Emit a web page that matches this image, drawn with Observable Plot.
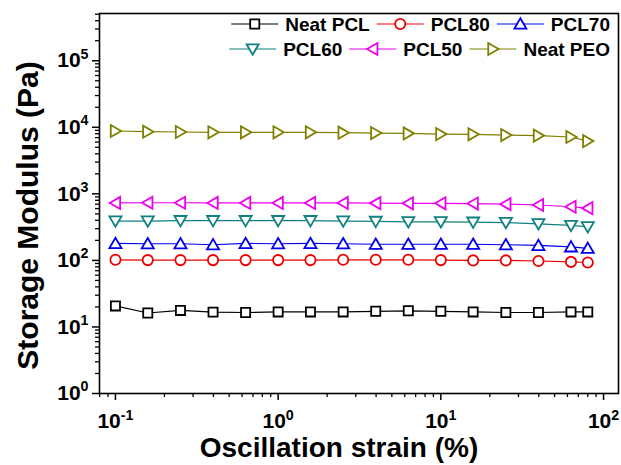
<!DOCTYPE html>
<html><head><meta charset="utf-8">
<script src="https://cdn.jsdelivr.net/npm/d3@7"></script>
<script src="https://cdn.jsdelivr.net/npm/@observablehq/plot@0.6"></script>
<style>
body{margin:0;background:#fff;}
#chart svg{display:block;background:#fff;}
</style></head><body><div id="chart"></div>
<script>
const strain = [0.1, 0.158, 0.251, 0.398, 0.631, 1, 1.58, 2.51, 3.98, 6.31, 10, 15.8, 25.1, 39.8, 63.1, 80];
const neatPCL = [20.7, 16.2, 17.7, 16.7, 16.5, 16.8, 16.8, 16.8, 17.2, 17.5, 17.2, 16.8, 16.5, 16.5, 16.8, 16.8];
const pcl80 = [102, 101, 101, 101, 101, 101, 101, 102, 102, 102, 101, 100, 100, 98, 95, 93];
const pcl70 = [180, 178, 178, 172, 180, 178, 180, 178, 175, 175, 175, 175, 172, 168, 160, 152];
const pcl60 = [390, 390, 395, 395, 395, 395, 395, 390, 385, 380, 380, 375, 370, 355, 335, 320];
const pcl50 = [730, 735, 735, 730, 730, 730, 730, 730, 725, 720, 720, 715, 700, 680, 640, 610];
const neatPEO = [8800, 8600, 8500, 8400, 8400, 8400, 8400, 8300, 8200, 8100, 7900, 7850, 7650, 7500, 7150, 6200];

const seriesNames = ["Neat PCL", "PCL80", "PCL70", "PCL60", "PCL50", "Neat PEO"];
const seriesValues = [neatPCL, pcl80, pcl70, pcl60, pcl50, neatPEO];
const seriesColors = ["#000000", "#ee0000", "#0000ee", "#118080", "#ee00ee", "#808000"];
const seriesShapes = ["square", "circle", "up", "down", "left", "right"];

const xMajorTicks = [0.1, 1, 10, 100];
const yMajorTicks = [1, 10, 100, 1000, 10000, 100000];
const xDomain = [Math.pow(10, -1.098), Math.pow(10, 2.092)];
const yDomain = [1, Math.pow(10, 5.71)];

function minorTicks(majors, domain) {
  const out = [];
  const firstDecade = majors[0] / 10;
  [firstDecade, ...majors].forEach(d => { for (let k = 2; k <= 9; k++) { const v = d * k; if (v >= domain[0] && v <= domain[1]) out.push(v); } });
  return out;
}
const xMinorTicks = minorTicks(xMajorTicks, xDomain);
const yMinorTicks = minorTicks(yMajorTicks, yDomain);

const FONT = "'Liberation Sans', Arial, Helvetica, sans-serif";

function drawShape(ctx, kind, h) {
  if (kind === "square") { const s = h * 0.8; ctx.rect(-s, -s, 2 * s, 2 * s); }
  else if (kind === "circle") { const r = h * 0.9; ctx.moveTo(r, 0); ctx.arc(0, 0, r, 0, 2 * Math.PI); }
  else if (kind === "up") { ctx.moveTo(0, -h); ctx.lineTo(1.06 * h, 0.82 * h); ctx.lineTo(-1.06 * h, 0.82 * h); ctx.closePath(); }
  else if (kind === "down") { ctx.moveTo(0, h); ctx.lineTo(1.06 * h, -0.82 * h); ctx.lineTo(-1.06 * h, -0.82 * h); ctx.closePath(); }
  else if (kind === "left") { ctx.moveTo(-h, 0); ctx.lineTo(0.82 * h, -1.06 * h); ctx.lineTo(0.82 * h, 1.06 * h); ctx.closePath(); }
  else if (kind === "right") { ctx.moveTo(h, 0); ctx.lineTo(-0.82 * h, -1.06 * h); ctx.lineTo(-0.82 * h, 1.06 * h); ctx.closePath(); }
}
function symbolOf(kind) {
  return { draw(ctx, size) { drawShape(ctx, kind, Math.sqrt(size / Math.PI)); } };
}

const rows = [];
seriesNames.forEach((name, i) => strain.forEach((x, j) => rows.push({ series: name, i, x, y: seriesValues[i][j] })));

const marks = [];
seriesNames.forEach((name, i) => {
  const d = rows.filter(r => r.i === i);
  marks.push(Plot.line(d, { x: "x", y: "y", stroke: seriesColors[i], strokeWidth: 1.2 }));
});
seriesNames.forEach((name, i) => {
  const d = rows.filter(r => r.i === i);
  marks.push(Plot.dot(d, { x: "x", y: "y", stroke: seriesColors[i], fill: "white", strokeWidth: 1.8, r: 5.7, symbol: symbolOf(seriesShapes[i]) }));
});

const expFmt = d => "10^" + Math.round(Math.log10(d));

const plot = Plot.plot({
  width: 621,
  height: 465,
  marginLeft: 99,
  marginRight: 3,
  marginTop: 13,
  marginBottom: 72,
  style: { fontFamily: FONT, background: "white", overflow: "visible" },
  x: { type: "log", domain: xDomain, axis: null },
  y: { type: "log", domain: yDomain, axis: null },
  marks: [
    ...marks,
    Plot.axisX(xMinorTicks, { tickSize: 4, tickFormat: () => "", label: null, stroke: "black", strokeWidth: 1.3 }),
    Plot.axisX(xMajorTicks, { tickSize: 7, tickPadding: 13, tickFormat: expFmt, label: null, fontSize: 21, fontWeight: "bold", stroke: "black", strokeWidth: 1.5, fill: "black" }),
    Plot.axisY(yMinorTicks, { tickSize: 4, tickFormat: () => "", label: null, stroke: "black", strokeWidth: 1.3 }),
    Plot.axisY(yMajorTicks, { tickSize: 7, tickPadding: 4, tickFormat: expFmt, label: null, fontSize: 21, fontWeight: "bold", stroke: "black", strokeWidth: 1.5, fill: "black" }),
    Plot.frame({ stroke: "black", strokeWidth: 1.6 }),
    Plot.text(["Storage Modulus (Pa)"], { frameAnchor: "left", textAnchor: "middle", lineAnchor: "middle", rotate: -90, dx: -71, dy: 12, fontSize: 30, fontWeight: "bold", fill: "black" }),
    Plot.text(["Oscillation strain (%)"], { frameAnchor: "bottom", textAnchor: "middle", lineAnchor: "middle", dx: -20, dy: 55, fontSize: 28, fontWeight: "bold", fill: "black" })
  ]
});

document.getElementById("chart").appendChild(plot);

// superscripts for power-of-ten tick labels
const NS = "http://www.w3.org/2000/svg";
plot.querySelectorAll("text").forEach(t => {
  const m = /^10\^(-?\d+)$/.exec(t.textContent);
  if (m) {
    t.textContent = "10";
    const ts = document.createElementNS(NS, "tspan");
    ts.setAttribute("dy", "-0.62em");
    ts.setAttribute("font-size", "0.68em");
    ts.textContent = m[1];
    t.appendChild(ts);
  }
});

// legend
const leg = d3.select(plot).append("g")
  .attr("font-family", FONT).attr("font-weight", "bold").attr("font-size", 19);
const legendRows = [[0, 1, 2], [3, 4, 5]];
const legendRowY = [24, 49];
legendRows.forEach((row, ri) => {
  let x = 610;
  const y = legendRowY[ri];
  for (let j = row.length - 1; j >= 0; j--) {
    const i = row[j];
    const t = leg.append("text").attr("x", x).attr("y", y).attr("dy", "0.36em")
      .attr("text-anchor", "end").attr("fill", "black").text(seriesNames[i]);
    const w = t.node().getComputedTextLength();
    x -= w + 7;
    leg.append("line").attr("x1", x - 47).attr("x2", x).attr("y1", y).attr("y2", y)
      .attr("stroke", seriesColors[i]).attr("stroke-width", 1.2);
    const p = d3.path();
    drawShape(p, seriesShapes[i], 5.7);
    leg.append("path").attr("d", p.toString()).attr("transform", `translate(${x - 23.5},${y})`)
      .attr("fill", "white").attr("stroke", seriesColors[i]).attr("stroke-width", 1.8);
    x -= 47 + 7;
  }
});
</script></body></html>
